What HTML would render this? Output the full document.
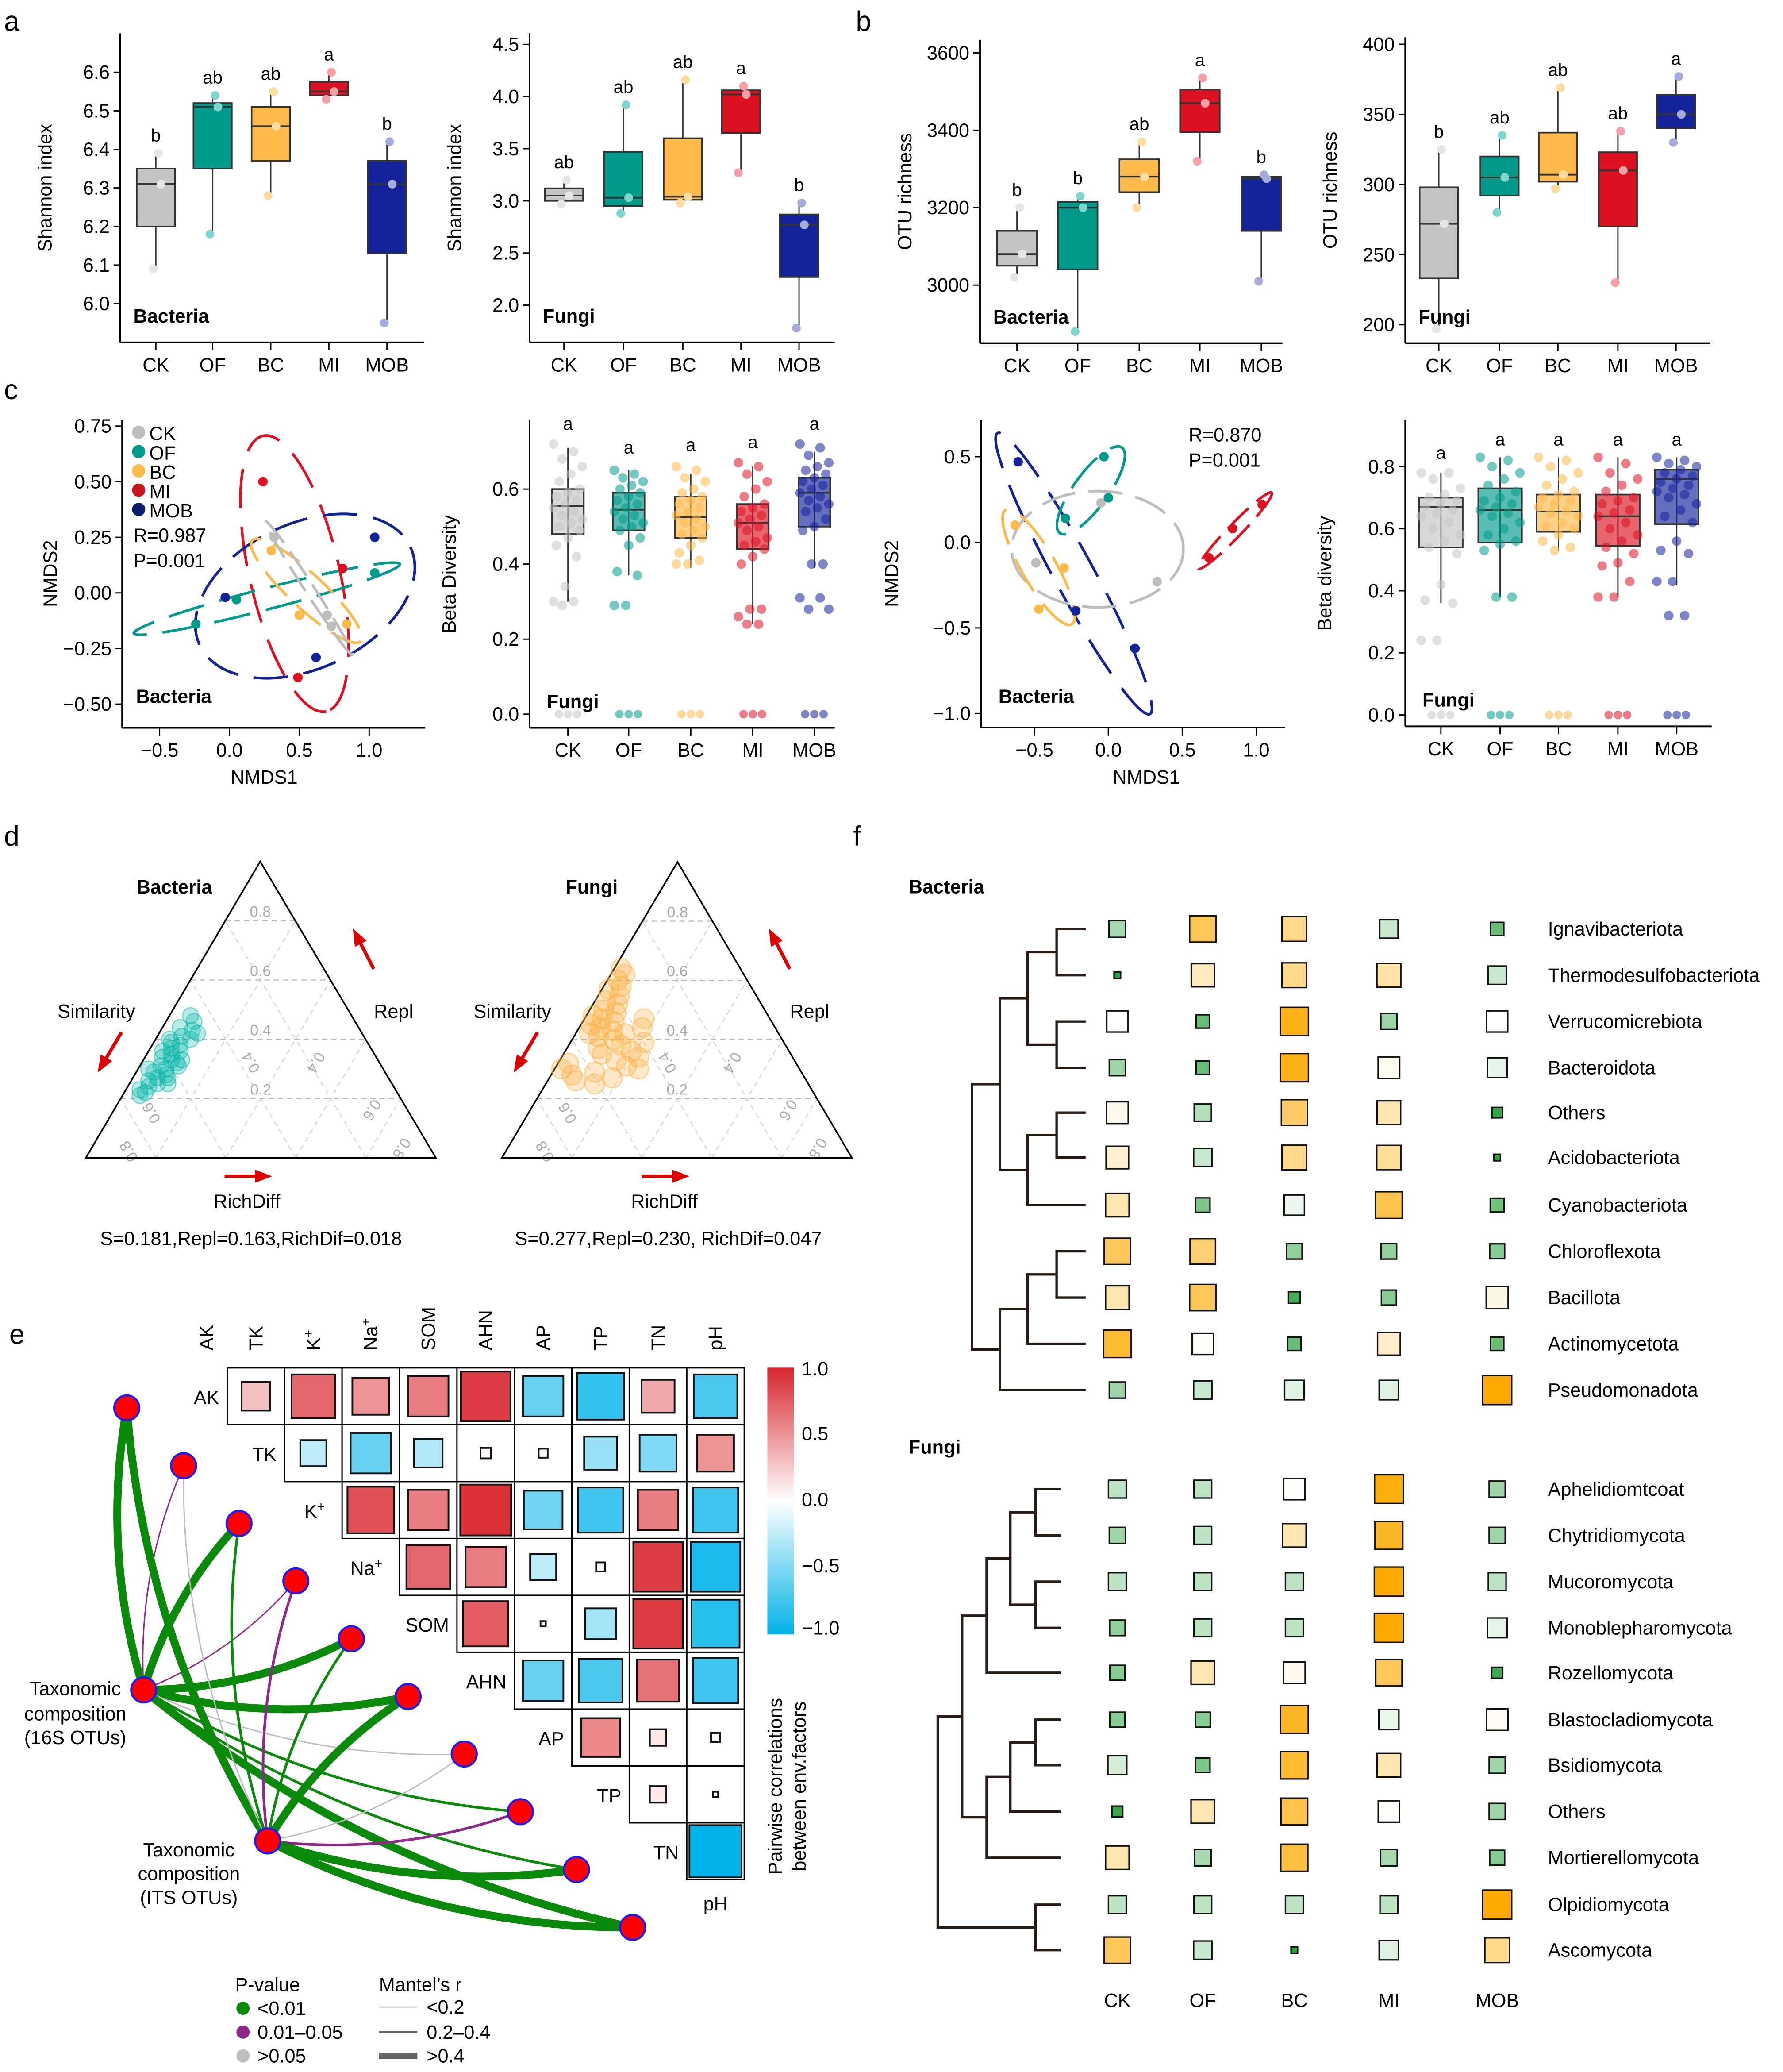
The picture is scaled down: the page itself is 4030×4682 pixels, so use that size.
<!DOCTYPE html>
<html><head><meta charset="utf-8">
<style>
html,body{margin:0;padding:0;background:#fff;}
svg{display:block;font-family:"Liberation Sans",Arial,sans-serif;}
</style></head>
<body>
<svg id="fig" xmlns="http://www.w3.org/2000/svg" width="4030" height="4682" viewBox="0 0 1350 1568">
<rect x="0" y="0" width="1350" height="1568" fill="#fff"/>
</svg>
<script>
// ===================== DATA =====================
const groups = ["CK","OF","BC","MI","MOB"];
const gColor = {CK:"#c4c4c4",OF:"#009a8a",BC:"#fdb94a",MI:"#dc1223",MOB:"#14229a"};
const gPoint = {CK:"#e6e6e6",OF:"#7fd6cc",BC:"#fedc9f",MI:"#f5a0a6",MOB:"#a5acdc"};
// box stats: [q1, median, q3, lowWhisker, highWhisker]
const shannonBac = [[6.20,6.31,6.35,6.09,6.39],[6.35,6.51,6.52,6.18,6.54],[6.37,6.46,6.51,6.28,6.55],[6.54,6.55,6.575,6.53,6.60],[6.13,6.31,6.37,5.95,6.42]];
const shannonBacLetters = ["b","ab","ab","a","b"];
const shannonFun = [[3.0,3.05,3.12,2.97,3.2],[2.95,3.03,3.47,2.88,3.92],[3.01,3.04,3.6,2.98,4.16],[3.65,4.02,4.06,3.27,4.1],[2.27,2.77,2.87,1.78,2.98]];
const shannonFunLetters = ["ab","ab","ab","a","b"];
const otuBac = [[3050,3080,3140,3020,3200],[3040,3200,3215,2880,3230],[3240,3280,3325,3200,3370],[3395,3470,3505,3320,3535],[3140,3275,3280,3010,3285]];
const otuBacLetters = ["b","b","ab","a","b"];
const otuFun = [[233,272,298,197,325],[292,305,320,280,335],[302,307,337,297,369],[270,310,323,230,338],[340,350,364,330,377]];
const otuFunLetters = ["b","ab","ab","ab","a"];
const betaBac = [[0.48,0.555,0.60,0.30,0.71],[0.49,0.545,0.59,0.37,0.65],[0.47,0.525,0.58,0.39,0.64],[0.44,0.51,0.56,0.24,0.66],[0.50,0.59,0.63,0.39,0.70]];
const betaFun = [[0.54,0.67,0.70,0.36,0.78],[0.555,0.66,0.73,0.38,0.83],[0.59,0.655,0.71,0.53,0.83],[0.545,0.64,0.71,0.38,0.83],[0.615,0.76,0.79,0.42,0.83]];
// jitter points for beta diversity (values)
const betaBacPts = [
 [0.72,0.70,0.68,0.66,0.64,0.62,0.60,0.59,0.58,0.57,0.56,0.55,0.54,0.53,0.52,0.51,0.50,0.49,0.47,0.45,0.42,0.34,0.30,0.30,0.29],
 [0.65,0.64,0.63,0.62,0.61,0.60,0.59,0.58,0.57,0.56,0.55,0.54,0.53,0.52,0.51,0.50,0.49,0.47,0.45,0.38,0.37,0.29,0.29],
 [0.66,0.65,0.63,0.62,0.60,0.59,0.58,0.57,0.56,0.55,0.54,0.53,0.52,0.51,0.50,0.49,0.48,0.47,0.45,0.43,0.41,0.40,0.40],
 [0.67,0.66,0.64,0.62,0.60,0.58,0.56,0.55,0.54,0.53,0.52,0.51,0.50,0.49,0.47,0.46,0.45,0.44,0.42,0.40,0.28,0.28,0.26,0.24,0.24],
 [0.72,0.71,0.69,0.67,0.66,0.65,0.64,0.63,0.62,0.61,0.60,0.59,0.58,0.57,0.56,0.55,0.54,0.52,0.50,0.49,0.40,0.40,0.31,0.31,0.28,0.28]];
const betaFunPts = [
 [0.78,0.78,0.76,0.73,0.71,0.70,0.69,0.68,0.67,0.66,0.65,0.64,0.62,0.60,0.58,0.56,0.54,0.52,0.42,0.37,0.36,0.24,0.24],
 [0.83,0.82,0.80,0.78,0.76,0.74,0.72,0.70,0.69,0.68,0.67,0.66,0.65,0.64,0.62,0.60,0.58,0.56,0.55,0.53,0.38,0.38],
 [0.83,0.82,0.80,0.78,0.76,0.74,0.72,0.71,0.70,0.69,0.68,0.67,0.66,0.65,0.64,0.62,0.61,0.60,0.58,0.56,0.54,0.53],
 [0.83,0.81,0.78,0.76,0.74,0.72,0.70,0.69,0.68,0.66,0.65,0.64,0.62,0.60,0.58,0.56,0.54,0.52,0.49,0.48,0.43,0.38,0.38],
 [0.83,0.82,0.81,0.80,0.79,0.78,0.77,0.76,0.75,0.74,0.73,0.72,0.71,0.70,0.68,0.66,0.64,0.62,0.56,0.53,0.52,0.43,0.43,0.32,0.32]];
// NMDS points [x,y] by group
const nmdsBac = {CK:[[0.32,0.25],[0.70,-0.10],[0.73,-0.15]],OF:[[-0.24,-0.14],[0.05,-0.03],[1.04,0.09]],BC:[[0.30,0.19],[0.50,-0.10],[0.84,-0.14]],MI:[[0.24,0.50],[0.81,0.11],[0.49,-0.38]],MOB:[[1.04,0.25],[-0.03,-0.02],[0.62,-0.29]]};
const nmdsFun = {CK:[[-0.05,0.23],[-0.49,-0.12],[0.33,-0.23]],OF:[[-0.03,0.50],[0.0,0.26],[-0.29,0.14]],BC:[[-0.63,0.10],[-0.30,-0.15],[-0.47,-0.39]],MI:[[0.68,-0.09],[0.84,0.08],[1.04,0.22]],MOB:[[-0.61,0.47],[-0.22,-0.40],[0.18,-0.62]]};
// ternary points [top fraction, right fraction]
const ternBac = [[0.48,0.06],[0.46,0.08],[0.44,0.05],[0.43,0.09],[0.41,0.07],[0.40,0.10],[0.39,0.05],[0.38,0.08],[0.37,0.06],[0.36,0.09],[0.35,0.07],[0.34,0.05],[0.33,0.08],[0.32,0.10],[0.31,0.06],[0.30,0.08],[0.29,0.05],[0.28,0.09],[0.27,0.07],[0.26,0.05],[0.25,0.08],[0.24,0.06],[0.23,0.04],[0.22,0.06],[0.21,0.05],[0.36,0.04],[0.40,0.04],[0.30,0.03],[0.27,0.10],[0.33,0.11],[0.31,0.11],[0.25,0.11],[0.42,0.11]];
const ternFun = [[0.64,0.02],[0.62,0.04],[0.60,0.03],[0.58,0.05],[0.57,0.02],[0.55,0.06],[0.53,0.03],[0.52,0.07],[0.50,0.04],[0.49,0.08],[0.48,0.02],[0.47,0.05],[0.46,0.09],[0.45,0.03],[0.44,0.06],[0.43,0.10],[0.42,0.04],[0.41,0.07],[0.47,0.17],[0.44,0.18],[0.40,0.12],[0.38,0.15],[0.36,0.19],[0.34,0.22],[0.33,0.16],[0.31,0.20],[0.30,0.24],[0.29,0.12],[0.27,0.18],[0.26,0.08],[0.25,0.14],[0.32,0.03],[0.30,0.02],[0.28,0.06],[0.35,0.11],[0.39,0.21],[0.42,0.14],[0.37,0.09]];
// correlation matrix (upper triangle)
const envVars = ["AK","TK","K+","Na+","SOM","AHN","AP","TP","TN","pH"];
const corr = [
 [0.30,0.70,0.50,0.60,0.90,-0.60,-0.80,0.40,-0.70],
 [-0.25,-0.60,-0.30,0.04,0.03,-0.40,-0.50,0.50],
 [0.80,0.60,0.95,-0.55,-0.75,0.60,-0.75],
 [0.70,0.60,-0.25,0.03,0.90,-0.90],
 [0.75,0.01,-0.35,0.90,-0.85],
 [-0.60,-0.70,0.65,-0.75],
 [0.55,0.10,0.03],
 [0.10,0.01],
 [-1.0]];
// Mantel edges: [target index, p class, r class]
const mantel16S = [[0,0,2],[1,1,0],[2,0,2],[3,1,0],[4,0,2],[5,0,2],[6,2,0],[7,0,1],[8,0,1],[9,0,2]];
const mantelITS = [[0,0,2],[1,2,0],[2,0,1],[3,1,1],[4,0,1],[5,0,2],[6,2,0],[7,1,1],[8,0,2],[9,0,2]];
// panel f heat values
const bacTaxa = ["Ignavibacteriota","Thermodesulfobacteriota","Verrucomicrebiota","Bacteroidota","Others","Acidobacteriota","Cyanobacteriota","Chloroflexota","Bacillota","Actinomycetota","Pseudomonadota"];
const bacVals = [[-0.4,0.65,0.45,-0.25,-0.7],[-1.0,0.25,0.45,0.35,-0.25],[0.0,-0.7,0.9,-0.45,0.0],[-0.45,-0.7,0.9,0.05,-0.12],[0.08,-0.35,0.6,0.3,-0.95],[0.18,-0.25,0.45,0.4,-0.98],[0.3,-0.6,-0.08,0.7,-0.65],[0.65,0.55,-0.5,-0.5,-0.55],[0.3,0.65,-0.85,-0.55,0.1],[0.8,0.02,-0.7,0.2,-0.7],[-0.45,-0.25,-0.15,-0.15,1.0]];
const funTaxa = ["Aphelidiomtcoat","Chytridiomycota","Mucoromycota","Monoblepharomycota","Rozellomycota","Blastocladiomycota","Bsidiomycota","Others","Mortierellomycota","Olpidiomycota","Ascomycota"];
const funVals = [[-0.3,-0.3,0.02,0.95,-0.45],[-0.45,-0.3,0.3,0.85,-0.45],[-0.3,-0.3,-0.3,1.0,-0.3],[-0.5,-0.3,-0.3,1.0,-0.12],[-0.55,0.3,0.06,0.65,-0.9],[-0.55,-0.55,0.85,-0.1,0.05],[-0.2,-0.6,0.8,0.3,-0.45],[-0.92,0.3,0.7,0.02,-0.45],[0.3,-0.4,0.75,-0.4,-0.55],[-0.3,-0.3,-0.3,-0.3,1.0],[0.65,-0.25,-1.0,-0.15,0.45]];

// ===================== HELPERS =====================
const NS="http://www.w3.org/2000/svg";
const svg=document.getElementById('fig');
function mk(tag,attrs,parent){const e=document.createElementNS(NS,tag);for(const k in attrs)e.setAttribute(k,attrs[k]);(parent||svg).appendChild(e);return e;}
function txt(x,y,s,attrs,parent){const a=Object.assign({x:x,y:y,'font-size':14,fill:'#000'},attrs||{});const e=mk('text',a,parent);e.textContent=s;return e;}
function grp(name,parent){const g=mk('g',{},parent);return g;}
function lin(d0,d1,r0,r1){return v=>r0+(v-d0)*(r1-r0)/(d1-d0);}
function axesFrame(g,x0,x1,y0,y1){mk('line',{x1:x0,y1:y0,x2:x0,y2:y1,stroke:'#000','stroke-width':1.3},g);mk('line',{x1:x0,y1:y1,x2:x1,y2:y1,stroke:'#000','stroke-width':1.3},g);}
function yTicks(g,x0,ys,ticks,fmt){ticks.forEach(t=>{const y=ys(t);mk('line',{x1:x0-5,y1:y,x2:x0,y2:y,stroke:'#000','stroke-width':1},g);const e=txt(x0-8,y+5,fmt(t),{'text-anchor':'end','font-size':14.5},g);});}
function xCats(g,xs,yb){groups.forEach((c,i)=>{const x=xs[i];mk('line',{x1:x,y1:yb,x2:x,y2:yb+6,stroke:'#000','stroke-width':1},g);const e=txt(x,yb+22,c,{'text-anchor':'middle','font-size':14.5},g);});}
function yTitle(g,x,y,s){const e=txt(x,y,s,{'text-anchor':'middle','font-size':14.5,transform:`rotate(-90 ${x} ${y})`},g);}
function boxes(g,stats,xs,ys,w,letters,pointsMode){
  stats.forEach((s,i)=>{const c=groups[i];const cx=xs[i];const bg=grp('box-'+c.toLowerCase(),g);
    mk('line',{x1:cx,y1:ys(s[3]),x2:cx,y2:ys(s[4]),stroke:'#333','stroke-width':1},bg);
    mk('rect',{x:cx-w/2,y:ys(s[2]),width:w,height:ys(s[0])-ys(s[2]),fill:gColor[c],stroke:'#333','stroke-width':1.2,'fill-opacity':pointsMode==='beta'?0.65:1},bg);
    mk('line',{x1:cx-w/2,y1:ys(s[1]),x2:cx+w/2,y2:ys(s[1]),stroke:'#333','stroke-width':1.3},bg);
    if(pointsMode!=='beta'){[[s[3],-2],[s[4],2],[s[1],4]].forEach(p=>{mk('circle',{cx:cx+p[1],cy:ys(p[0]),r:3.3,fill:gPoint[c]},bg);});}
    if(letters){const e=txt(cx,ys(s[4])-9,letters[i],{'text-anchor':'middle','font-size':13.5},bg);}
  });
}
function panelLetter(x,y,s){const e=txt(x,y,s,{'font-size':21});}

panelLetter(3,23,'a');panelLetter(648,23,'b');panelLetter(3,302,'c');panelLetter(3,640,'d');panelLetter(646,640,'f');panelLetter(7,1017,'e');

// ===================== PANEL a/b =====================
function boxPanel(name,stats,letters,x0,x1,yb,yt,xs,dom,rng,ticks,fmt,title,lbl,w){
  const g=grp(name);const ys=lin(dom[0],dom[1],rng[0],rng[1]);
  axesFrame(g,x0,x1,yt,yb);yTicks(g,x0,ys,ticks,fmt);xCats(g,xs,yb);
  boxes(g,stats,xs,ys,w,letters,'box');
  yTitle(g,x0-52,(yt+yb)/2,title);
  const e=txt(x0+10,yb-15,lbl,{'font-size':14.5,'font-weight':'bold'},g);
}
boxPanel('shannon-bacteria-chart',shannonBac,shannonBacLetters,91,321,259,25,[118,161,205,249,293],[6.0,6.6],[229.6,54.5],[6.0,6.1,6.2,6.3,6.4,6.5,6.6],t=>t.toFixed(1),'Shannon index','Bacteria',29);
boxPanel('shannon-fungi-chart',shannonFun,shannonFunLetters,401,632,259,25,[427,472,517,561,605],[2.0,4.5],[230.8,33.4],[2.0,2.5,3.0,3.5,4.0,4.5],t=>t.toFixed(1),'Shannon index','Fungi',29);
boxPanel('otu-bacteria-chart',otuBac,otuBacLetters,742,971,259.6,30,[770,816,862.6,908.5,955],[3000,3600],[215.6,39.8],[3000,3200,3400,3600],t=>String(t),'OTU richness','Bacteria',30);
boxPanel('otu-fungi-chart',otuFun,otuFunLetters,1064,1295,259.6,28,[1089.4,1135.4,1179.6,1225,1269],[200,400],[245.6,33.3],[200,250,300,350,400],t=>String(t),'OTU richness','Fungi',29);

// ===================== PANEL c NMDS =====================
function ellipse(g,cx,cy,rx,ry,ang,col,dash){mk('ellipse',{cx:cx,cy:cy,rx:rx,ry:ry,transform:`rotate(${ang} ${cx} ${cy})`,fill:'none',stroke:col,'stroke-width':2,'stroke-dasharray':dash},g);}
(function(){const g=grp('nmds-bacteria-chart');const x0=92.5,x1=322,yt=318,yb=550.7;
  const xs=lin(0,0.5,173.7,226.6),ys=lin(0,0.25,448.6,406.5);
  axesFrame(g,x0,x1,yt,yb);yTicks(g,x0,ys,[0.75,0.5,0.25,0,-0.25,-0.5],t=>t<0?'\u2212'+Math.abs(t).toFixed(2):t.toFixed(2));
  [-0.5,0,0.5,1.0].forEach(t=>{const x=xs(t);mk('line',{x1:x,y1:yb,x2:x,y2:yb+6,stroke:'#000'},g);txt(x,yb+22,t<0?'\u2212'+Math.abs(t).toFixed(1):t.toFixed(1),{'text-anchor':'middle','font-size':14.5},g);});
  txt(200,593,'NMDS1',{'text-anchor':'middle','font-size':14.5},g);yTitle(g,43,434,'NMDS2');
  const eg=grp('ellipses',g);
  ellipse(eg,223,434,107,34,77,gColor.MI,'30 14');
  ellipse(eg,231,451,88,55,-25,gColor.MOB,'26 12');
  ellipse(eg,202,453,104,8,-14.6,gColor.OF,'28 12');
  ellipse(eg,232,447,56,13,43,gColor.BC,'24 10');
  ellipse(eg,234,445,60,3.5,57,'#bdbdbd','22 8');
  groups.forEach(c=>{nmdsBac[c].forEach(p=>{const e=mk('circle',{cx:xs(p[0]),cy:ys(p[1]),r:3.6,fill:c==='CK'?'#bdbdbd':gColor[c]},g);});});
  const lg=grp('legend',g);groups.forEach((c,i)=>{mk('circle',{cx:105,cy:327+i*14.6,r:5,fill:c==='CK'?'#bdbdbd':(c==='MI'?'#c8161e':(c==='MOB'?'#0c1e6a':gColor[c]))},lg);txt(113,333+i*14.6,c,{'font-size':14.5},lg);});
  txt(101,410,'R=0.987',{'font-size':14.5},g);txt(101,429,'P=0.001',{'font-size':14.5},g);
  txt(103,532,'Bacteria',{'font-size':14.5,'font-weight':'bold'},g);
})();
(function(){const g=grp('nmds-fungi-chart');const x0=743,x1=973,yt=318,yb=550.5;
  const xs=lin(0,0.5,839.2,895.2),ys=lin(0,0.5,410.3,345.5);
  axesFrame(g,x0,x1,yt,yb);yTicks(g,x0,ys,[0.5,0,-0.5,-1.0],t=>t<0?'\u2212'+Math.abs(t).toFixed(1):t.toFixed(1));
  [-0.5,0,0.5,1.0].forEach(t=>{const x=xs(t);mk('line',{x1:x,y1:yb,x2:x,y2:yb+6,stroke:'#000'},g);txt(x,yb+22,t<0?'\u2212'+Math.abs(t).toFixed(1):t.toFixed(1),{'text-anchor':'middle','font-size':14.5},g);});
  txt(868,593,'NMDS1',{'text-anchor':'middle','font-size':14.5},g);yTitle(g,680,434,'NMDS2');
  const eg=grp('ellipses',g);
  ellipse(eg,813,434,121,15,61.5,gColor.MOB,'30 14');
  ellipse(eg,831,415.5,65,44,0,'#bdbdbd','26 10');
  ellipse(eg,826,371,40,13,-54,gColor.OF,'30 12');
  ellipse(eg,786.5,429,50,13,60,gColor.BC,'28 12');
  ellipse(eg,935,401.5,40,5,-46,gColor.MI,'22 8');
  groups.forEach(c=>{nmdsFun[c].forEach(p=>{const e=mk('circle',{cx:xs(p[0]),cy:ys(p[1]),r:3.6,fill:c==='CK'?'#bdbdbd':gColor[c]},g);});});
  txt(900,334,'R=0.870',{'font-size':14.5},g);txt(900,353,'P=0.001',{'font-size':14.5},g);
  txt(756,532,'Bacteria',{'font-size':14.5,'font-weight':'bold'},g);
})();
function betaPanel(name,stats,pts,x0,x1,yb,xs,dom,rng,ticks,title,w,letterY){
  const g=grp(name);const ys=lin(dom[0],dom[1],rng[0],rng[1]);
  axesFrame(g,x0,x1,318,yb);yTicks(g,x0,ys,ticks,t=>t.toFixed(1));xCats(g,xs,yb);
  boxes(g,stats,xs,ys,w,null,'beta');
  pts.forEach((arr,i)=>{const c=groups[i];arr.forEach((v,j)=>{const off=((j*7)%11-5)*w/11;const e=mk('circle',{cx:xs[i]+off,cy:ys(v),r:3.6,fill:gColor[c],'fill-opacity':0.55},g);});
    [-7,0,7].forEach(o=>mk('circle',{cx:xs[i]+o,cy:ys(0),r:3.2,fill:gColor[c],'fill-opacity':0.55},g));
    const e=txt(xs[i],letterY[i],'a',{'text-anchor':'middle','font-size':13.5},g);});
  yTitle(g,x0-56,(318+yb)/2,title);
  txt(x0+13,yb-15,'Fungi',{'font-size':14.5,'font-weight':'bold'},g);
}
betaPanel('beta-bacteria-chart',betaBac,betaBacPts,401,632,550.7,[430,476,523,570,616.6],[0,0.6],[540.4,370],[0,0.2,0.4,0.6],'Beta Diversity',24,[325,343,341,339,325]);
betaPanel('beta-fungi-chart',betaFun,betaFunPts,1064,1296,549.6,[1091,1135.8,1180,1225,1269.5],[0,0.8],[541,353],[0,0.2,0.4,0.6,0.8],'Beta diversity',33,[347,337,337,337,337]);

// ===================== PANEL d ternary =====================
function ternary(name,L,R,T,pts,col,title,stats){
  const g=grp(name);
  const P=(a,b)=>{const c=1-a-b;return [c*L[0]+b*R[0]+a*T[0],c*L[1]+b*R[1]+a*T[1]];};
  const gg=grp('grid',g);
  [0.2,0.4,0.6,0.8].forEach(f=>{
    let p1=P(f,0),p2=P(f,1-f);mk('line',{x1:p1[0],y1:p1[1],x2:p2[0],y2:p2[1],stroke:'#bbb','stroke-width':0.8,'stroke-dasharray':'4 3'},gg);
    p1=P(0,f);p2=P(1-f,f);mk('line',{x1:p1[0],y1:p1[1],x2:p2[0],y2:p2[1],stroke:'#ccc','stroke-width':0.6,'stroke-dasharray':'4 3'},gg);
    p1=P(0,1-f);p2=P(1-f,0);mk('line',{x1:p1[0],y1:p1[1],x2:p2[0],y2:p2[1],stroke:'#ccc','stroke-width':0.6,'stroke-dasharray':'4 3'},gg);
    const m=P(f,(1-f)/2);txt(m[0],m[1]-3,f.toFixed(1),{'text-anchor':'middle','font-size':11.5,fill:'#aaa'},gg);
  });
  [[0.03,0.12,'0.8',60],[0.16,0.12,'0.6',60],[0.04,0.87,'0.8',-60],[0.17,0.72,'0.6',-60],[0.33,0.32,'0.4',60],[0.33,0.48,'0.4',-60]].forEach(q=>{const p=P(q[0],q[1]);txt(p[0],p[1],q[2],{'text-anchor':'middle','font-size':11.5,fill:'#aaa',transform:`rotate(${q[3]+180} ${p[0]} ${p[1]})`},gg);});
  mk('polygon',{points:`${L} ${R} ${T}`,fill:'none',stroke:'#000','stroke-width':1.2},g);
  pts.forEach(p=>{const q=P(p[0],p[1]);const e=mk('circle',{cx:q[0],cy:q[1],r:col==='#00b3a7'?6:7.5,fill:col,'fill-opacity':0.28,stroke:col,'stroke-opacity':0.5,'stroke-width':0.8},g);});
  txt(T[0]-65,L[1]-200,title,{'text-anchor':'middle','font-size':14.5,'font-weight':'bold'},g);
  txt(L[0]+8,L[1]-106,'Similarity',{'text-anchor':'middle','font-size':14.5},g);
  txt(R[0]-32,L[1]-106,'Repl',{'text-anchor':'middle','font-size':14.5},g);
  txt(T[0]-10,L[1]+38,'RichDiff',{'text-anchor':'middle','font-size':14.5},g);
  txt(T[0]-7,L[1]+66,stats,{'text-anchor':'middle','font-size':14.5},g);
  const ar=(x1,y1,x2,y2)=>{mk('line',{x1:x1,y1:y1,x2:x2,y2:y2,stroke:'#d00','stroke-width':2.6},g);const a=Math.atan2(y2-y1,x2-x1),s=9;mk('polygon',{points:`${x2+Math.cos(a)*4},${y2+Math.sin(a)*4} ${x2-Math.cos(a)*s+Math.sin(a)*5},${y2-Math.sin(a)*s-Math.cos(a)*5} ${x2-Math.cos(a)*s-Math.sin(a)*5},${y2-Math.sin(a)*s+Math.cos(a)*5}`,fill:'#d00'},g);};
  ar(L[0]+27,L[1]-95,L[0]+11,L[1]-68);
  ar(R[0]-47,L[1]-143,R[0]-61,L[1]-170);
  ar(T[0]-27,L[1]+14,T[0]+5,L[1]+14);
}
ternary('ternary-bacteria',[65,876.2],[330,876.2],[197,651.9],ternBac,'#00b3a7','Bacteria','S=0.181,Repl=0.163,RichDif=0.018');
ternary('ternary-fungi',[380,876.2],[645,876.2],[513,652.3],ternFun,'#fdae3a','Fungi','S=0.277,Repl=0.230, RichDif=0.047');

// ===================== PANEL e =====================
function corrColor(v){const a=Math.min(1,Math.abs(v));const base=v>=0?[216,38,46]:[0,178,232];const c=base.map(b=>Math.round(255+(b-255)*a));return `rgb(${c[0]},${c[1]},${c[2]})`;}
(function(){const g=grp('correlation-heatmap');const X0=172,Y0=1035.2,cw=43.5,ch=43.05;
  const cx=j=>X0+(j-1)*cw, cy=i=>Y0+i*ch;
  envVars.forEach((v,k)=>{const xx=k===0?X0-cw/2+6:cx(k)+cw/2;const lab=txt(xx+5,1022,v.replace('+',''),{'font-size':14.5,transform:`rotate(-90 ${xx+5} 1022)`},g);if(v.includes('+')){const s=mk('tspan',{'baseline-shift':'super','font-size':10},lab);s.textContent='+';}
    });
  corr.forEach((row,i)=>{row.forEach((v,jj)=>{const j=i+1+jj;const x=cx(j),y=cy(i);
      mk('rect',{x:x,y:y,width:cw,height:ch,fill:'#fff',stroke:'#000','stroke-width':1},g);
      const s=Math.max(4,(cw-4)*Math.sqrt(Math.abs(v)));const c=mk('rect',{x:x+cw/2-s/2,y:y+ch/2-s/2,width:s,height:s,fill:corrColor(v),stroke:'#111','stroke-width':1.3},g);
      });
    const lx=cx(i+1)-6;const lab=txt(lx,cy(i)+ch/2+6,envVars[i].replace('+',''),{'text-anchor':'end','font-size':14.5},g);
    if(envVars[i].includes('+')){lab.setAttribute('x',lx-7);const s=mk('tspan',{'baseline-shift':'super','font-size':10},lab);s.textContent='+';}
    });
  txt(cx(9)+cw/2,1446,'pH',{'text-anchor':'middle','font-size':14.5},g);
  const cb=grp('colorbar',g);const defs=mk('defs',{},cb);const lgd=mk('linearGradient',{id:'cbg',x1:0,y1:0,x2:0,y2:1},defs);
  [[0,'#d8262e'],[0.5,'#ffffff'],[1,'#00b2e8']].forEach(s=>mk('stop',{offset:s[0],'stop-color':s[1]},lgd));
  mk('rect',{x:581,y:1035,width:20,height:202,fill:'url(#cbg)'},cb);
  [[1.0,1041],[0.5,1090],[0.0,1140],[-0.5,1190],[-1.0,1237]].forEach(t=>txt(607,t[1],(t[0]<0?'\u2212':'')+Math.abs(t[0]).toFixed(1),{'font-size':14.5},cb));
  txt(592,1352,'Pairwise correlations',{'text-anchor':'middle','font-size':14.5,transform:'rotate(-90 592 1352)'},cb);
  txt(610,1352,'between env.factors',{'text-anchor':'middle','font-size':14.5,transform:'rotate(-90 610 1352)'},cb);
})();
(function(){const g=grp('mantel-network');
  const nodes=[[96,1065.5],[139,1109.3],[181,1153],[224,1196.5],[266,1240.3],[309,1284],[351.5,1327.5],[394,1371.2],[436.5,1415],[479,1458.8]];
  const src16=[108.8,1279],srcITS=[202.7,1393.3];
  const pcol=['#0a8a0a','#8b2a8b','#bdbdbd'],wid=[1,2,6];
  function edges(src,list){list.forEach(e=>{const t=nodes[e[0]];const dx=t[0]-src[0],dy=t[1]-src[1];const L=Math.hypot(dx,dy);let px=-dy/L,py=dx/L;if(px-py>0){px=-px;py=-py;}const k=0.12*L;const c=[(src[0]+t[0])/2+px*k,(src[1]+t[1])/2+py*k];
    const p=mk('path',{d:`M${src[0]},${src[1]} Q${c[0]},${c[1]} ${t[0]},${t[1]}`,fill:'none',stroke:pcol[e[1]],'stroke-width':wid[e[2]]},g);});}
  edges(src16,mantel16S);edges(srcITS,mantelITS);
  nodes.concat([src16,srcITS]).forEach(n=>{const c=mk('circle',{cx:n[0],cy:n[1],r:9.5,fill:'#ff0000',stroke:'#1a1aff','stroke-width':1.5},g);});
  [['Taxonomic',1283],['composition',1302],['(16S OTUs)',1320]].forEach(t=>txt(57,t[1],t[0],{'text-anchor':'middle','font-size':14.5},g));
  [['Taxonomic',1405],['composition',1423],['(ITS OTUs)',1441]].forEach(t=>txt(143,t[1],t[0],{'text-anchor':'middle','font-size':14.5},g));
  const lg=grp('mantel-legend',g);
  txt(178,1507,'P-value',{'font-size':14.5},lg);
  [['<0.01','#0a8a0a',1525],['0.01\u20130.05','#8b2a8b',1543],['>0.05','#bdbdbd',1561]].forEach(r=>{mk('circle',{cx:184,cy:r[2]-5,r:5,fill:r[1]},lg);txt(195,r[2],r[0],{'font-size':14.5},lg);});
  txt(287,1507,"Mantel\u2019s r",{'font-size':14.5},lg);
  [['<0.2',0.8,1524],['0.2\u20130.4',1.6,1543],['>0.4',5,1561]].forEach(r=>{mk('line',{x1:287,y1:r[2]-5,x2:316,y2:r[2]-5,stroke:'#666','stroke-width':r[1]},lg);txt(323,r[2],r[0],{'font-size':14.5},lg);});
})();

// ===================== PANEL f =====================
function fColor(v){const a=Math.min(1,Math.abs(v));let base=v>=0?[252,170,0]:[40,160,60];const c=base.map(b=>Math.round(255+(b-255)*a));return `rgb(${c[0]},${c[1]},${c[2]})`;}
function fSize(v){if(v<=-0.97)return 5;return v>=0?16+6*v:16+8.5*v;}
function heatF(name,taxa,vals,rowY,label,labelY){const g=grp(name);const cols=[846,910.7,980,1051.6,1133.6];
  txt(688,labelY,label,{'font-size':14.5,'font-weight':'bold'},g);
  vals.forEach((row,i)=>{row.forEach((v,j)=>{const s=fSize(v);const r=mk('rect',{x:cols[j]-s/2,y:rowY[i]-s/2,width:s,height:s,fill:fColor(v),stroke:'#111','stroke-width':1.1},g);});
    const t=txt(1172,rowY[i]+5,taxa[i],{'font-size':14.5},g);});
  return g;}
const bacY=[703,738,773,808,842,876,912,947,982,1017,1052];
const funY=[1127,1162,1197,1232,1266,1301.5,1336,1371,1406,1441.5,1476];
heatF('heatmap-bacteria',bacTaxa,bacVals,bacY,'Bacteria',676);
heatF('heatmap-fungi',funTaxa,funVals,funY,'Fungi',1100);
['CK','OF','BC','MI','MOB'].forEach((c,j)=>txt([846,910.7,980,1051.6,1133.6][j],1519,c,{'text-anchor':'middle','font-size':14.5}));
function dendro(g,segs){segs.forEach(s=>mk('path',{d:s,fill:'none',stroke:'#2a1a14','stroke-width':1.8},g));}
(function(){const y=bacY;const L=822;const g=grp('dendrogram-bacteria');
  const m1=(y[0]+y[1])/2,m2=(y[2]+y[3])/2,m3=(m1+m2)/2,m4=(y[4]+y[5])/2,m5=(m4+y[6])/2,m6=(m3+m5)/2,m7=(y[7]+y[8])/2,m8=(m7+y[9])/2,m9=(m8+y[10])/2;
  dendro(g,[`M${L},${y[0]}H800V${y[1]}H${L}`,`M${L},${y[2]}H800V${y[3]}H${L}`,`M800,${m1}H778V${m2}H800`,`M${L},${y[4]}H800V${y[5]}H${L}`,`M800,${m4}H778V${y[6]}H${L}`,`M778,${m3}H757V${m5}H778`,
  `M${L},${y[7]}H800V${y[8]}H${L}`,`M800,${m7}H778V${y[9]}H${L}`,`M778,${m8}H757V${y[10]}H${L}`,`M757,${m6}H736V${m9}H757`]);})();
(function(){const y=funY;const L=803;const g=grp('dendrogram-fungi');
  const a=(y[0]+y[1])/2,b=(y[2]+y[3])/2,c=(a+b)/2,d=(c+y[4])/2,e=(y[5]+y[6])/2,f=(e+y[7])/2,h=(f+y[8])/2,k=(d+h)/2,m=(y[9]+y[10])/2;
  dendro(g,[`M${L},${y[0]}H784V${y[1]}H${L}`,`M${L},${y[2]}H784V${y[3]}H${L}`,`M784,${a}H765V${b}H784`,`M765,${c}H747V${y[4]}H${L}`,
  `M${L},${y[5]}H784V${y[6]}H${L}`,`M784,${e}H765V${y[7]}H${L}`,`M765,${f}H747V${y[8]}H${L}`,`M747,${d}H728.5V${h}H747`,
  `M${L},${y[9]}H784V${y[10]}H${L}`,`M728.5,${k}H710V${m}H784`]);})();
</script>
</body></html>
